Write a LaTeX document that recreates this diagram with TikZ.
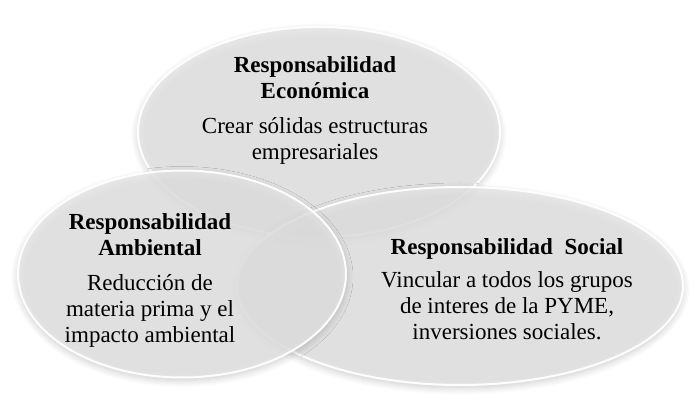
\documentclass[tikz,border=0pt]{standalone}
\usepackage{fontspec}
\setmainfont{Liberation Serif}
\usetikzlibrary{shapes.geometric,shadows.blur,positioning}

\begin{document}
\begin{tikzpicture}[x=1pt, y=1pt,
    bubble/.style={ellipse, fill=black!10, fill opacity=0.8, draw=white, draw opacity=0.95, line width=2,
      blur shadow={shadow xshift=0pt, shadow yshift=-3pt, shadow blur radius=7pt, shadow blur steps=12, shadow opacity=25}},
    bubbletext/.style={align=center, text=black, font=\fontsize{23}{26}\selectfont}]
  \useasboundingbox (0,0) rectangle (696,412);

  % Ellipses
  \node[bubble, minimum width=362, minimum height=210] (eco) at (319,280) {};
  \node[bubble, minimum width=446, minimum height=198] (soc) at (460,126) {};
  \node[bubble, minimum width=328, minimum height=207] (amb) at (182,138) {};

  % Texts
  \node[bubbletext] (ecotxt) at ([shift={(-4,22)}]eco.center)
    {\textbf{Responsabilidad}\\ \textbf{Económica}\\[9pt] Crear sólidas estructuras\\ empresariales};
  \node[bubbletext] (ambtxt) at ([shift={(-32,-6)}]amb.center)
    {\textbf{Responsabilidad}\\ \textbf{Ambiental}\\[9pt] Reducción de\\ materia prima y el\\ impacto ambiental};
  \node[bubbletext] (soctxt) at ([shift={(47,-3)}]soc.center)
    {\textbf{Responsabilidad\ \ Social}\\[7pt] Vincular a todos los grupos\\ de interes de la PYME,\\ inversiones sociales.};
\end{tikzpicture}
\end{document}
